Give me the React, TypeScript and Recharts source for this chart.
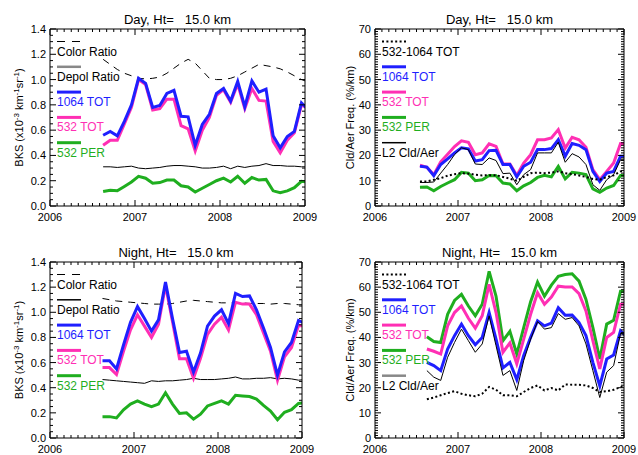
import React from "react";
import { LineChart, Line, XAxis, YAxis } from "recharts";

const FONT = "'Liberation Sans', Arial, Helvetica, sans-serif";
const BLUE = "#1f1fff";
const PINK = "#ff2fb4";
const GREEN = "#1fae1f";

// monthly samples, Jul 2006 .. Jan 2009
const monthsJul = [
  "2006-07", "2006-08", "2006-09", "2006-10", "2006-11", "2006-12",
  "2007-01", "2007-02", "2007-03", "2007-04", "2007-05", "2007-06",
  "2007-07", "2007-08", "2007-09", "2007-10", "2007-11", "2007-12",
  "2008-01", "2008-02", "2008-03", "2008-04", "2008-05", "2008-06",
  "2008-07", "2008-08", "2008-09", "2008-10", "2008-11", "2008-12",
  "2009-01",
];
const monthsAug = monthsJul.slice(1);

const yearTicks = [2006, 2007, 2008, 2009];
const bksTicks = [0, 0.2, 0.4, 0.6, 0.8, 1.0, 1.2, 1.4];
const freqTicks = [0, 10, 20, 30, 40, 50, 60, 70];

// Day, BKS (Aug 2006 ..)
const dayBks1064 = [0.56, 0.59, 0.555, 0.67, 0.8, 1.01, 0.97, 0.78, 0.795, 0.89, 0.915, 0.71, 0.705, 0.48, 0.645, 0.725, 0.89, 0.93, 0.83, 0.985, 0.785, 0.99, 0.9, 0.925, 0.555, 0.46, 0.55, 0.59, 0.815, 0.76];
const dayBks532 = [0.48, 0.52, 0.52, 0.65, 0.78, 1.0, 0.96, 0.76, 0.77, 0.845, 0.845, 0.635, 0.61, 0.435, 0.6, 0.7, 0.875, 0.92, 0.82, 0.965, 0.77, 0.93, 0.835, 0.83, 0.51, 0.42, 0.52, 0.58, 0.8, 0.77];
const dayColorRatio = [1.16, 1.12, 1.08, 1.05, 1.03, 1.01, 1.005, 1.01, 1.02, 1.05, 1.09, 1.13, 1.16, 1.13, 1.07, 1.01, 1.0, 1.0, 1.01, 1.03, 1.06, 1.09, 1.12, 1.11, 1.1, 1.085, 1.06, 1.03, 1.0, 0.98];
const dayDepol = [0.31, 0.31, 0.305, 0.31, 0.315, 0.3, 0.295, 0.3, 0.305, 0.315, 0.32, 0.32, 0.315, 0.31, 0.3, 0.3, 0.305, 0.315, 0.295, 0.315, 0.305, 0.315, 0.32, 0.335, 0.32, 0.32, 0.315, 0.315, 0.31, 0.31];
const dayPer = [0.115, 0.125, 0.12, 0.155, 0.19, 0.235, 0.22, 0.18, 0.185, 0.205, 0.205, 0.16, 0.15, 0.11, 0.14, 0.17, 0.2, 0.22, 0.19, 0.235, 0.18, 0.225, 0.205, 0.21, 0.12, 0.105, 0.12, 0.145, 0.195, 0.19];

// Day, frequency (Jul 2006 ..)
const dayFreq532 = [16.1, 15.3, 12.4, 17.5, 20.5, 23.5, 25.8, 25.2, 20.3, 21.0, 24.6, 23.6, 16.6, 16.6, 12.1, 17.0, 20.3, 26.2, 26.2, 26.9, 30.2, 22.9, 27.2, 26.2, 23.2, 14.4, 10.4, 13.7, 17.0, 24.7, 24.7];
const dayFreq1064 = [15.7, 15.4, 12.0, 16.4, 18.6, 21.0, 23.0, 22.6, 17.8, 18.3, 21.9, 22.0, 16.4, 16.4, 11.5, 15.7, 17.3, 22.3, 22.3, 22.7, 26.2, 19.7, 24.7, 24.0, 22.3, 13.7, 9.7, 13.0, 13.7, 19.7, 19.7];
const dayFreqL2 = [9.3, 9.3, 9.5, 13.0, 16.4, 20.3, 23.0, 22.3, 16.6, 16.4, 19.0, 18.0, 12.8, 13.0, 8.4, 12.4, 14.4, 21.0, 21.0, 21.0, 25.2, 17.3, 20.7, 19.4, 16.4, 8.4, 6.2, 10.4, 12.4, 18.3, 18.3];
const dayFreqDiff = [9.7, 9.7, 10.4, 11.0, 12.0, 12.6, 13.0, 12.8, 12.4, 12.1, 12.2, 12.2, 11.5, 10.8, 10.0, 11.5, 13.0, 13.2, 13.0, 13.2, 13.7, 13.0, 12.6, 12.1, 11.5, 10.7, 10.4, 11.5, 12.1, 13.7, 13.9];
const dayFreqPer = [7.4, 7.5, 6.0, 7.7, 9.1, 10.4, 13.3, 13.0, 10.0, 10.4, 12.1, 12.0, 9.1, 8.7, 6.0, 8.0, 9.3, 11.3, 12.1, 11.5, 15.7, 10.7, 13.3, 13.0, 12.4, 6.8, 5.4, 7.1, 8.1, 12.1, 12.1];

// Night, BKS (Aug 2006 ..)
const nightBks1064 = [0.615, 0.615, 0.55, 0.74, 0.92, 1.045, 0.95, 0.85, 0.94, 1.24, 0.95, 0.68, 0.69, 0.525, 0.675, 0.89, 0.97, 1.02, 0.91, 1.15, 1.125, 1.13, 1.02, 0.875, 0.72, 0.5, 0.685, 0.76, 0.935, 0.91];
const nightBks532 = [0.56, 0.56, 0.505, 0.69, 0.86, 0.98, 0.89, 0.8, 0.905, 1.215, 0.925, 0.63, 0.63, 0.475, 0.635, 0.825, 0.905, 0.96, 0.86, 1.08, 1.065, 1.065, 0.98, 0.835, 0.69, 0.46, 0.645, 0.72, 0.895, 0.89];
const nightColorRatio = [1.11, 1.1, 1.09, 1.085, 1.08, 1.075, 1.07, 1.065, 1.065, 1.065, 1.07, 1.08, 1.09, 1.095, 1.09, 1.085, 1.08, 1.075, 1.075, 1.075, 1.075, 1.07, 1.07, 1.07, 1.065, 1.07, 1.07, 1.065, 1.06, 1.06];
const nightDepol = [0.465, 0.46, 0.455, 0.45, 0.445, 0.44, 0.435, 0.455, 0.45, 0.455, 0.455, 0.46, 0.465, 0.475, 0.465, 0.465, 0.465, 0.47, 0.475, 0.485, 0.47, 0.47, 0.475, 0.475, 0.48, 0.47, 0.475, 0.47, 0.46, 0.465];
const nightPer = [0.17, 0.17, 0.16, 0.225, 0.27, 0.295, 0.27, 0.25, 0.27, 0.36, 0.27, 0.195, 0.2, 0.15, 0.19, 0.255, 0.275, 0.295, 0.27, 0.34, 0.335, 0.33, 0.31, 0.26, 0.215, 0.145, 0.205, 0.225, 0.275, 0.28];

// Night, frequency (Aug 2006 ..)
const nightFreqPer = [40.3, 38.4, 38.0, 49.2, 54.7, 57.1, 52.5, 48.6, 53.2, 66.3, 56.4, 38.7, 42.4, 33.4, 43.9, 54.2, 62.0, 56.4, 60.8, 64.3, 65.0, 65.3, 62.4, 55.1, 43.9, 31.4, 45.3, 46.8, 58.4, 58.4];
const nightFreq532 = [35.4, 34.5, 33.4, 44.6, 49.9, 52.5, 47.6, 43.7, 48.6, 61.1, 49.9, 34.1, 37.8, 29.5, 39.3, 49.2, 57.8, 53.2, 56.1, 60.4, 60.1, 60.1, 57.4, 50.5, 38.7, 27.5, 40.0, 42.0, 53.2, 53.2];
const nightFreq1064 = [30.1, 28.8, 26.8, 35.4, 40.7, 45.3, 40.7, 37.1, 40.0, 49.9, 39.3, 27.9, 30.1, 23.2, 32.8, 40.0, 46.6, 44.6, 45.7, 51.8, 48.8, 48.9, 45.9, 40.7, 30.1, 20.7, 31.4, 33.0, 42.6, 40.0];
const nightFreqL2 = [26.8, 24.2, 22.9, 32.1, 38.0, 43.3, 38.7, 34.1, 37.4, 48.6, 36.7, 24.9, 26.8, 18.9, 30.8, 39.3, 46.3, 43.3, 43.9, 49.5, 47.2, 47.9, 44.6, 37.4, 26.8, 16.1, 26.2, 28.8, 41.6, 41.3];
const nightFreqDiff = [15.4, 16.1, 17.0, 17.9, 18.6, 17.6, 17.0, 16.6, 17.6, 20.3, 19.2, 17.0, 17.0, 16.6, 18.3, 19.9, 20.9, 18.9, 19.9, 18.9, 21.3, 21.2, 21.2, 20.9, 19.9, 18.3, 18.6, 19.2, 20.3, 20.9];

const toYear = (m: string) => {
  const [y, mo] = m.split("-").map(Number);
  return y + (mo - 0.5) / 12;
};

// minor tick positions (axis decoration)
const xMinor = Array.from({ length: 37 }, (_, i) => 2006 + i / 12);
const bksMinor = Array.from({ length: 29 }, (_, i) => i * 0.05);
const freqMinor = Array.from({ length: 71 }, (_, i) => i);

const isMajor = (v: number, majors: number[]) => majors.some((m) => Math.abs(m - v) < 1e-6);

type Series = { name: string; values: number[]; color: string; width: number; dash?: string };
type LegendItem = { label: string; color: string; stroke: string; width: number; dash?: string };

type PanelCfg = {
  left: number;
  top: number;
  width: number;
  height: number;
  plot: { l: number; r: number; t: number; b: number };
  title: string;
  months: string[];
  series: Series[];
  yMax: number;
  yMajor: number[];
  yMinor: number[];
  yFmt: (v: number) => string;
  yLabel: "bks" | "freq";
  legend: LegendItem[];
};

const dashedBlack = { color: "#000", stroke: "#000", width: 1.2, dash: "8 7" };
const dottedBlack = { color: "#000", stroke: "#000", width: 2, dash: "2 2.4" };

const panels: PanelCfg[] = [
  {
    left: 0, top: 0, width: 319, height: 228,
    plot: { l: 50, r: 305, t: 29, b: 206 },
    title: "Day, Ht=\u00a0\u00a0 15.0 km",
    months: monthsAug,
    series: [
      { name: "cr", values: dayColorRatio, color: "#000", width: 1, dash: "7 6" },
      { name: "dp", values: dayDepol, color: "#000", width: 1 },
      { name: "t532", values: dayBks532, color: PINK, width: 3 },
      { name: "t1064", values: dayBks1064, color: BLUE, width: 3 },
      { name: "per", values: dayPer, color: GREEN, width: 3 },
    ],
    yMax: 1.4, yMajor: bksTicks, yMinor: bksMinor, yFmt: (v) => v.toFixed(1), yLabel: "bks",
    legend: [
      { label: "Color Ratio", ...dashedBlack },
      { label: "Depol Ratio", color: "#000", stroke: "#888", width: 2.5 },
      { label: "1064 TOT", color: BLUE, stroke: BLUE, width: 3 },
      { label: "532 TOT", color: PINK, stroke: PINK, width: 3 },
      { label: "532 PER", color: GREEN, stroke: GREEN, width: 3 },
    ],
  },
  {
    left: 319, top: 0, width: 319, height: 228,
    plot: { l: 56, r: 305, t: 29, b: 206 },
    title: "Day, Ht=\u00a0\u00a0 15.0 km",
    months: monthsJul,
    series: [
      { name: "t532", values: dayFreq532, color: PINK, width: 3 },
      { name: "t1064", values: dayFreq1064, color: BLUE, width: 3 },
      { name: "l2", values: dayFreqL2, color: "#000", width: 1 },
      { name: "per", values: dayFreqPer, color: GREEN, width: 3 },
      { name: "diff", values: dayFreqDiff, color: "#000", width: 2, dash: "2 2.4" },
    ],
    yMax: 70, yMajor: freqTicks, yMinor: freqMinor, yFmt: (v) => String(Math.round(v)), yLabel: "freq",
    legend: [
      { label: "532-1064 TOT", ...dottedBlack },
      { label: "1064 TOT", color: BLUE, stroke: BLUE, width: 3 },
      { label: "532 TOT", color: PINK, stroke: PINK, width: 3 },
      { label: "532 PER", color: GREEN, stroke: GREEN, width: 3 },
      { label: "L2 Cld/Aer", color: "#000", stroke: "#000", width: 1.5 },
    ],
  },
  {
    left: 0, top: 228, width: 319, height: 227,
    plot: { l: 50, r: 302, t: 34, b: 210 },
    title: "Night, Ht=\u00a0\u00a0 15.0 km",
    months: monthsAug,
    series: [
      { name: "cr", values: nightColorRatio, color: "#000", width: 1, dash: "7 6" },
      { name: "dp", values: nightDepol, color: "#000", width: 1 },
      { name: "t532", values: nightBks532, color: PINK, width: 3 },
      { name: "t1064", values: nightBks1064, color: BLUE, width: 3 },
      { name: "per", values: nightPer, color: GREEN, width: 3 },
    ],
    yMax: 1.4, yMajor: bksTicks, yMinor: bksMinor, yFmt: (v) => v.toFixed(1), yLabel: "bks",
    legend: [
      { label: "Color Ratio", ...dashedBlack },
      { label: "Depol Ratio", color: "#000", stroke: "#000", width: 1.5 },
      { label: "1064 TOT", color: BLUE, stroke: BLUE, width: 3 },
      { label: "532 TOT", color: PINK, stroke: PINK, width: 3 },
      { label: "532 PER", color: GREEN, stroke: GREEN, width: 3 },
    ],
  },
  {
    left: 319, top: 228, width: 319, height: 227,
    plot: { l: 56, r: 305, t: 34, b: 210 },
    title: "Night, Ht=\u00a0\u00a0 15.0 km",
    months: monthsAug,
    series: [
      { name: "per", values: nightFreqPer, color: GREEN, width: 3 },
      { name: "t532", values: nightFreq532, color: PINK, width: 3 },
      { name: "t1064", values: nightFreq1064, color: BLUE, width: 3 },
      { name: "l2", values: nightFreqL2, color: "#000", width: 1 },
      { name: "diff", values: nightFreqDiff, color: "#000", width: 2, dash: "2 2.4" },
    ],
    yMax: 70, yMajor: freqTicks, yMinor: freqMinor, yFmt: (v) => String(Math.round(v)), yLabel: "freq",
    legend: [
      { label: "532-1064 TOT", ...dottedBlack },
      { label: "1064 TOT", color: BLUE, stroke: BLUE, width: 3 },
      { label: "532 TOT", color: PINK, stroke: PINK, width: 3 },
      { label: "532 PER", color: GREEN, stroke: GREEN, width: 3 },
      { label: "L2 Cld/Aer", color: "#000", stroke: "#888", width: 2.5 },
    ],
  },
];

function Panel({ cfg }: { cfg: PanelCfg }) {
  const { width, height, plot } = cfg;
  const rows = cfg.months.map((m, i) => {
    const row: Record<string, number> = { x: toYear(m) };
    cfg.series.forEach((s) => {
      row[s.name] = s.values[i];
    });
    return row;
  });

  const bottomTick = (p: any) => {
    const v = p.payload.value;
    const major = isMajor(v, yearTicks);
    return (
      <g>
        <line x1={p.x} x2={p.x} y1={p.y} y2={p.y - (major ? 6 : 3)} stroke="#000" />
        {major && (
          <text x={p.x} y={p.y + 15} textAnchor="middle" fontSize={11} fontFamily={FONT} fill="#000">
            {Math.round(v)}
          </text>
        )}
      </g>
    );
  };
  const topTick = (p: any) => {
    const major = isMajor(p.payload.value, yearTicks);
    return <line x1={p.x} x2={p.x} y1={p.y} y2={p.y + (major ? 6 : 3)} stroke="#000" />;
  };
  const leftTick = (p: any) => {
    const v = p.payload.value;
    const major = isMajor(v, cfg.yMajor);
    return (
      <g>
        <line x1={p.x} x2={p.x + (major ? 6 : 3)} y1={p.y} y2={p.y} stroke="#000" />
        {major && (
          <text x={p.x - 4} y={p.y + 4} textAnchor="end" fontSize={11} fontFamily={FONT} fill="#000">
            {cfg.yFmt(v)}
          </text>
        )}
      </g>
    );
  };
  const rightTick = (p: any) => {
    const major = isMajor(p.payload.value, cfg.yMajor);
    return <line x1={p.x} x2={p.x - (major ? 6 : 3)} y1={p.y} y2={p.y} stroke="#000" />;
  };

  const axisCommon = {
    tickSize: 0,
    tickMargin: 0,
    tickLine: false,
    interval: 0 as const,
    allowDataOverflow: true,
    axisLine: { stroke: "#000", strokeWidth: 1 },
  };

  return (
    <div style={{ position: "absolute", left: cfg.left, top: cfg.top }}>
      <LineChart
        width={width}
        height={height}
        data={rows}
        margin={{ top: plot.t - 1, left: plot.l - 1, right: width - plot.r - 1, bottom: height - plot.b - 1 }}
      >
        <XAxis xAxisId="b" dataKey="x" type="number" domain={[2006, 2009]} ticks={xMinor} height={1} tick={bottomTick} {...axisCommon} />
        <XAxis xAxisId="t" orientation="top" dataKey="x" type="number" domain={[2006, 2009]} ticks={xMinor} height={1} tick={topTick} {...axisCommon} />
        <YAxis yAxisId="l" type="number" domain={[0, cfg.yMax]} ticks={cfg.yMinor} width={1} tick={leftTick} {...axisCommon} />
        <YAxis yAxisId="r" orientation="right" type="number" domain={[0, cfg.yMax]} ticks={cfg.yMinor} width={1} tick={rightTick} {...axisCommon} />
        {cfg.series.map((s) => (
          <Line
            key={s.name}
            xAxisId="b"
            yAxisId="l"
            type="linear"
            dataKey={s.name}
            stroke={s.color}
            strokeWidth={s.width}
            strokeDasharray={s.dash}
            dot={false}
            activeDot={false}
            isAnimationActive={false}
          />
        ))}
      </LineChart>
    </div>
  );
}

function Overlay() {
  return (
    <svg width={638} height={455} style={{ position: "absolute", left: 0, top: 0, pointerEvents: "none" }}>
      {panels.map((cfg, pi) => {
        const pl = cfg.left + cfg.plot.l;
        const pr = cfg.left + cfg.plot.r;
        const pt = cfg.top + cfg.plot.t;
        const pb = cfg.top + cfg.plot.b;
        const cy = (pt + pb) / 2;
        const lx = pl + 7;
        const labelX = cfg.yLabel === "bks" ? cfg.left + 19 : cfg.left + 31;
        return (
          <g key={pi} fontFamily={FONT}>
            <text x={(pl + pr) / 2} y={pt - 5} textAnchor="middle" fontSize={13} fill="#000">
              {cfg.title}
            </text>
            <text transform={`translate(${labelX},${cy}) rotate(-90)`} textAnchor="middle" fontSize={11} fill="#000" dy={4}>
              {cfg.yLabel === "bks" ? (
                <>
                  BKS (x10
                  <tspan dy={-4} fontSize={8}>-3</tspan>
                  <tspan dy={4}> km</tspan>
                  <tspan dy={-4} fontSize={8}>-1</tspan>
                  <tspan dy={4}>sr</tspan>
                  <tspan dy={-4} fontSize={8}>-1</tspan>
                  <tspan dy={4}>)</tspan>
                </>
              ) : (
                "Cld/Aer Freq. (%/km)"
              )}
            </text>
            {cfg.legend.map((it, i) => {
              const sy = pt + 12.5 + 25.3 * i;
              return (
                <g key={it.label}>
                  <line x1={lx} x2={lx + 24} y1={sy} y2={sy} stroke={it.stroke} strokeWidth={it.width} strokeDasharray={it.dash} />
                  <text x={lx} y={sy + 14} fontSize={12} fill={it.color}>
                    {it.label}
                  </text>
                </g>
              );
            })}
          </g>
        );
      })}
    </svg>
  );
}

export default function App() {
  return (
    <div style={{ position: "absolute", left: 0, top: 0, width: 638, height: 455, background: "#fff", overflow: "hidden" }}>
      {panels.map((cfg, i) => (
        <Panel key={i} cfg={cfg} />
      ))}
      <Overlay />
    </div>
  );
}
